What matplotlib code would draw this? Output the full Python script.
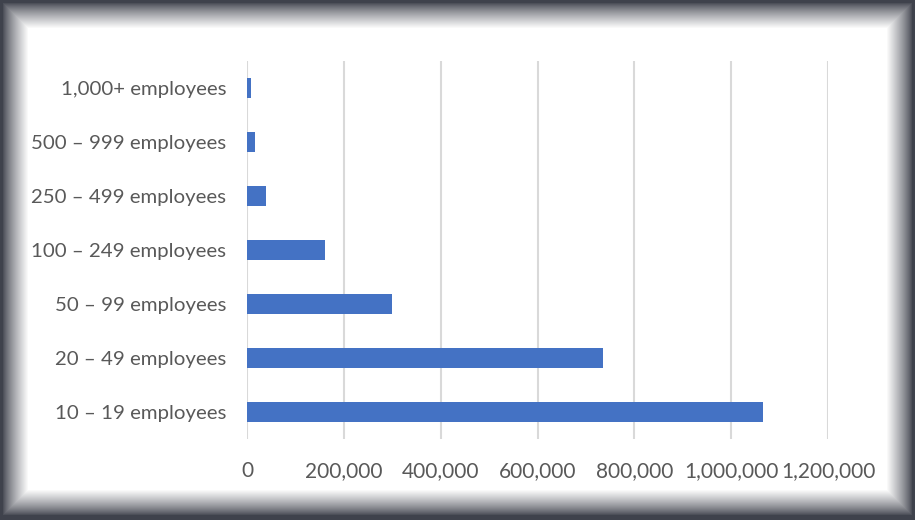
import numpy as np
import matplotlib.pyplot as plt
from matplotlib.ticker import FuncFormatter

categories = ["10 – 19 employees", "20 – 49 employees", "50 – 99 employees",
              "100 – 249 employees", "250 – 499 employees", "500 – 999 employees",
              "1,000+ employees"]
values = [1066000, 736000, 299000, 161000, 39000, 16000, 8000]
xticks = [0, 200000, 400000, 600000, 800000, 1000000, 1200000]

plt.rcParams['font.family'] = ['Lato', 'DejaVu Sans']

W, H = 915, 520
fig = plt.figure(figsize=(W / 100, H / 100), dpi=100)

# blurred dark frame around the white chart area (screenshot look)
bg = fig.add_axes([0, 0, 1, 1])
yy, xx = np.mgrid[0:H, 0:W]
d = np.minimum.reduce([xx - 2, W - 1 - xx - 2, yy - 2, H - 1 - yy - 4]).astype(float)
ramp = np.clip(d / 26.0, 0, 1) ** 0.8
dark = np.array([0.25, 0.26, 0.30])
img = dark[None, None, :] * (1 - ramp[..., None]) + ramp[..., None]
bg.imshow(img, aspect='auto', extent=[0, 1, 0, 1], interpolation='bilinear')
bg.axis('off')

ax = fig.add_axes([247 / W, 1 - 439 / H, (828 - 247) / W, (439 - 61) / H])
ax.set_facecolor('none')
y = np.arange(len(categories))
ax.barh(y, values, height=0.37, color='#4472C4', zorder=3)
ax.set_ylim(-0.5, len(categories) - 0.5)
ax.set_xlim(0, 1200000)
ax.set_xticks(xticks)
ax.xaxis.set_major_formatter(FuncFormatter(lambda v, p: f"{int(v):,}"))
ax.set_yticks(y)
ax.set_yticklabels(categories)
ax.grid(axis='x', color='#D9D9D9', linewidth=1.5, zorder=0)
for s in ax.spines.values():
    s.set_visible(False)
ax.tick_params(length=0, labelsize=15, labelcolor='#595959')
ax.tick_params(axis='x', pad=16)
ax.tick_params(axis='y', pad=15, labelsize=14.7)

fig.savefig('out.png', dpi=100)
